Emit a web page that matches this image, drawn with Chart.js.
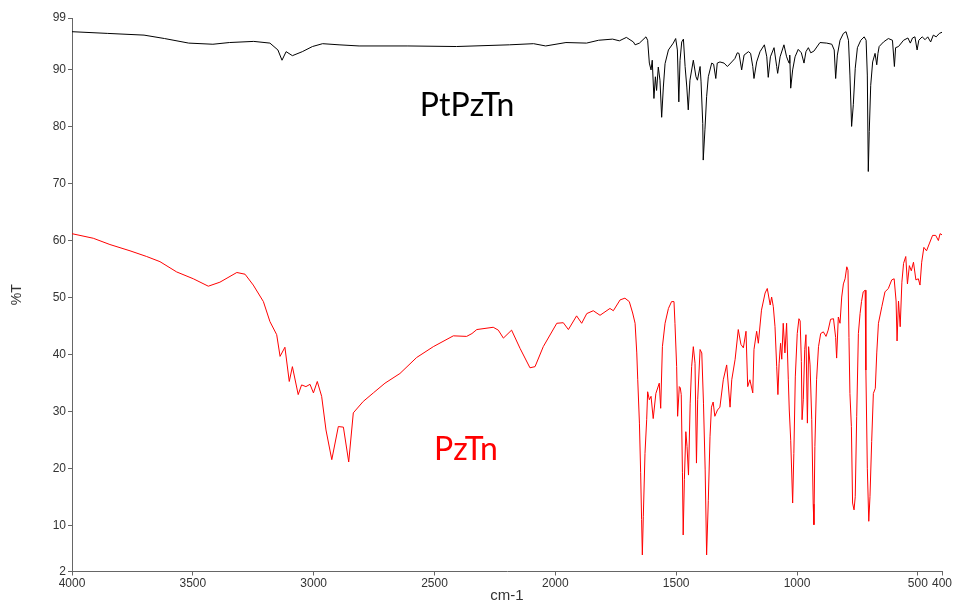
<!DOCTYPE html>
<html>
<head>
<meta charset="utf-8">
<title>IR spectra PtPzTn / PzTn</title>
<script src="https://cdn.jsdelivr.net/npm/chart.js@4.4.0/dist/chart.umd.min.js"></script>
<style>
	html, body { margin: 0; padding: 0; background: #fff; }
	#chartDiv { width: 955px; height: 605px; position: relative; }
</style>
</head>
<body>
<div id="chartDiv"><canvas id="chart-0"></canvas></div>
<script>
	//PtPzTn spectrum: wavenumber (cm-1) and %T
	var wnPtPzTn = [4000, 3852, 3702, 3617, 3517, 3417, 3349, 3248, 3181, 3148, 3131, 3114, 3088, 3047, 3005, 2963, 2895, 2812, 2610, 2409,
		2190, 2090, 2040, 1956, 1871, 1821, 1763, 1735, 1706, 1677, 1670, 1652, 1625, 1618, 1611, 1604, 1599, 1592, 1586, 1581,
		1574, 1567, 1560, 1553, 1546, 1532, 1512, 1502, 1495, 1489, 1484, 1477, 1470, 1463, 1456, 1450, 1443, 1429, 1418, 1412,
		1401, 1397, 1390, 1388, 1381, 1374, 1367, 1353, 1345, 1336, 1330, 1319, 1302, 1288, 1270, 1257, 1247, 1240, 1229, 1219,
		1201, 1192, 1183, 1178, 1167, 1153, 1135, 1125, 1119, 1110, 1095, 1084, 1080, 1070, 1054, 1043, 1033, 1030, 1026, 1018,
		1008, 995, 982, 971, 963, 953, 943, 930, 905, 877, 856, 846, 840, 833, 822, 808, 797, 787, 781, 774,
		767, 759, 750, 736, 722, 714, 709, 705, 701, 695, 687, 677, 670, 665, 660, 642, 622, 605, 597, 592,
		580, 559, 541, 531, 522, 512, 503, 496, 482, 470, 459, 447, 436, 424, 411, 400];
	var tPtPzTn = [96.6, 96.3, 96.0, 95.4, 94.6, 94.4, 94.7, 94.9, 94.6, 93.4, 91.6, 93.1, 92.4, 93.1, 94.0, 94.5, 94.3, 94.1, 94.1, 94.0,
		94.3, 94.5, 94.1, 94.7, 94.6, 95.1, 95.3, 95.0, 95.6, 94.8, 94.3, 94.6, 95.7, 95.1, 91.1, 89.9, 91.6, 84.9, 88.7, 86.3,
		90.4, 88.1, 81.6, 86.9, 91.0, 93.4, 94.6, 95.4, 93.4, 84.3, 91.6, 94.8, 95.3, 90.5, 86.9, 82.9, 88.1, 91.6, 88.7, 88.1,
		90.5, 87.8, 80.5, 74.1, 79.4, 85.2, 88.7, 91.1, 90.9, 88.4, 91.1, 91.3, 91.1, 90.5, 91.3, 91.9, 92.9, 92.8, 89.9, 92.5,
		93.1, 92.8, 90.5, 88.4, 91.3, 93.1, 94.3, 92.2, 88.6, 92.2, 93.8, 90.5, 89.3, 92.2, 94.3, 92.2, 91.1, 92.5, 86.7, 89.9,
		92.2, 93.5, 92.9, 91.1, 93.1, 93.8, 92.9, 93.2, 94.7, 94.6, 94.4, 93.4, 88.4, 92.5, 95.1, 96.3, 96.6, 95.1, 89.0, 80.0,
		83.8, 90.2, 93.8, 95.1, 95.7, 95.1, 89.0, 72.1, 79.1, 87.2, 91.3, 92.8, 90.8, 92.8, 94.0, 94.8, 95.4, 95.1, 90.5, 93.8,
		94.0, 95.1, 95.5, 94.6, 95.5, 95.7, 93.4, 95.1, 95.7, 95.2, 95.7, 94.8, 96.0, 95.7, 96.3, 96.5];

	//PzTn spectrum: wavenumber (cm-1) and %T
	var wnPzTn = [4000, 3912, 3843, 3760, 3691, 3636, 3567, 3498, 3436, 3388, 3318, 3284, 3250, 3208, 3181, 3153, 3139, 3119, 3101, 3088,
		3064, 3050, 3032, 3015, 3001, 2985, 2967, 2949, 2925, 2898, 2877, 2855, 2836, 2795, 2753, 2705, 2643, 2574, 2505, 2422,
		2367, 2345, 2325, 2257, 2236, 2215, 2181, 2146, 2105, 2084, 2050, 1994, 1967, 1946, 1912, 1891, 1870, 1843, 1815, 1774,
		1760, 1732, 1712, 1694, 1680, 1670, 1663, 1659, 1652, 1647, 1643, 1640, 1636, 1629, 1622, 1618, 1611, 1604, 1595, 1584,
		1570, 1564, 1557, 1546, 1532, 1519, 1509, 1505, 1498, 1494, 1487, 1483, 1479, 1474, 1471, 1466, 1460, 1455, 1449, 1442,
		1436, 1429, 1422, 1416, 1411, 1401, 1394, 1387, 1380, 1374, 1367, 1360, 1354, 1347, 1340, 1329, 1319, 1305, 1291, 1277,
		1270, 1256, 1243, 1232, 1222, 1211, 1204, 1195, 1183, 1178, 1167, 1160, 1147, 1132, 1123, 1111, 1105, 1098, 1091, 1084,
		1079, 1074, 1068, 1063, 1057, 1050, 1043, 1036, 1032, 1026, 1018, 1013, 1007, 999, 992, 987, 982, 979, 974, 968,
		963, 957, 952, 946, 939, 933, 930, 926, 919, 911, 902, 891, 880, 871, 861, 849, 840, 836, 829, 822,
		815, 808, 801, 794, 789, 785, 781, 775, 770, 764, 759, 753, 746, 739, 733, 726, 718, 715, 709, 703,
		698, 691, 684, 676, 670, 663, 649, 636, 622, 608, 598, 590, 586, 580, 573, 566, 559, 550, 543, 535,
		527, 518, 508, 498, 491, 484, 475, 464, 453, 439, 426, 415, 408, 400];
	var tPzTn = [61.2, 60.4, 59.3, 58.2, 57.2, 56.3, 54.5, 53.3, 52.0, 52.7, 54.4, 54.1, 52.2, 49.3, 45.8, 43.5, 39.7, 41.3, 35.3, 37.9,
		33.0, 34.7, 34.4, 34.8, 33.3, 35.3, 32.7, 26.8, 21.6, 27.4, 27.3, 21.2, 29.8, 31.8, 33.3, 35.0, 36.7, 39.5, 41.4, 43.3,
		43.2, 43.7, 44.4, 44.8, 44.3, 42.9, 44.3, 41.1, 37.7, 37.9, 41.4, 45.5, 45.6, 44.4, 46.8, 45.5, 47.2, 47.7, 46.9, 48.1,
		47.7, 49.6, 49.9, 49.3, 47.3, 45.5, 40.3, 35.6, 28.0, 19.3, 11.1, 4.9, 11.6, 22.7, 28.6, 33.5, 32.1, 32.7, 28.8, 33.2,
		35.0, 30.6, 41.4, 45.5, 48.1, 49.3, 49.3, 45.5, 37.9, 29.2, 34.4, 34.2, 33.0, 19.3, 8.4, 18.1, 26.5, 23.9, 18.9, 31.5,
		37.9, 41.4, 38.5, 21.0, 32.1, 40.9, 40.3, 31.5, 19.8, 4.9, 14.4, 25.6, 30.8, 31.7, 29.2, 30.3, 30.8, 35.6, 38.2, 30.8,
		35.6, 39.2, 44.4, 41.8, 41.2, 44.1, 34.4, 35.6, 33.3, 40.9, 44.1, 42.0, 47.8, 50.8, 51.6, 48.7, 50.1, 48.4, 44.9, 37.9,
		33.0, 38.5, 42.0, 39.2, 45.5, 40.3, 45.5, 35.6, 30.3, 25.0, 14.0, 22.7, 36.1, 43.7, 46.3, 45.9, 38.8, 28.6, 32.1, 40.9,
		43.5, 28.0, 41.4, 38.2, 28.6, 13.8, 10.2, 23.9, 35.6, 41.4, 43.7, 44.0, 43.2, 44.3, 46.2, 46.3, 43.0, 39.4, 46.6, 45.5,
		50.1, 52.4, 53.3, 55.4, 54.8, 43.0, 33.2, 27.4, 14.0, 12.8, 15.1, 29.2, 43.7, 47.2, 49.3, 51.0, 51.3, 37.3, 20.1, 10.8,
		15.1, 24.8, 33.2, 34.1, 40.3, 45.5, 48.4, 51.0, 51.6, 53.1, 53.3, 49.4, 42.4, 49.4, 44.9, 52.7, 56.0, 57.2, 52.4, 55.6,
		54.7, 56.2, 53.1, 53.3, 52.2, 56.2, 58.8, 58.2, 59.4, 60.9, 60.9, 60.0, 61.2, 61.0];

	var xTicks = [4000, 3500, 3000, 2500, 2000, 1500, 1000, 500, 400];
	var yTicks = [2, 10, 20, 30, 40, 50, 60, 70, 80, 90, 99];

	function toPoints(xs, ys) {
		var pts = [];
		for (var i = 0; i < xs.length; i++) {
			pts.push({x: xs[i], y: ys[i]});
		}
		return pts;
	}

	//plain numbers on the axes, no thousands separator
	function plainLabel(value) {
		return String(value);
	}

	//writes the compound names inside the plot
	var spectrumLabels = {
		id: 'spectrumLabels',
		afterDatasetsDraw: function(chart) {
			var ctx = chart.ctx;
			var xs = chart.scales.x;
			var ys = chart.scales.y;
			var labels = [
				{text: 'PtPzTn', wn: 2365, t: 83.7, color: '#000000'},
				{text: 'PzTn', wn: 2370, t: 23.3, color: '#ff0000'}
			];
			ctx.save();
			ctx.font = '32px Lato';
			ctx.textAlign = 'center';
			ctx.textBaseline = 'middle';
			for (var i = 0; i < labels.length; i++) {
				ctx.fillStyle = labels[i].color;
				ctx.fillText(labels[i].text, xs.getPixelForValue(labels[i].wn), ys.getPixelForValue(labels[i].t));
			}
			ctx.restore();
		}
	};

	var tickFont = {family: 'Liberation Sans', size: 12};
	var axisColor = '#666666';

	var ctx = document.getElementById('chart-0').getContext('2d');
	var myChart = new Chart(ctx, {
		type: 'line',
		data: {
			datasets: [
				{
					label: 'PtPzTn',
					data: toPoints(wnPtPzTn, tPtPzTn),
					borderColor: '#000000',
					borderWidth: 1,
					pointRadius: 0,
					tension: 0,
					fill: false
				},
				{
					label: 'PzTn',
					data: toPoints(wnPzTn, tPzTn),
					borderColor: '#ff0000',
					borderWidth: 1,
					pointRadius: 0,
					tension: 0,
					fill: false
				}
			]
		},
		options: {
			responsive: true,
			maintainAspectRatio: false,
			animation: false,
			layout: {padding: {top: 18, right: 13, bottom: 0, left: 9}},
			plugins: {
				legend: {display: false},
				tooltip: {enabled: false}
			},
			scales: {
				x: {
					type: 'linear',
					reverse: true,
					min: 400,
					max: 4000,
					afterBuildTicks: function(scale) {
						scale.ticks = xTicks.map(function(v) { return {value: v}; });
					},
					afterFit: function(scale) {
						scale.height = 33.5;
					},
					grid: {display: true, drawOnChartArea: false, drawTicks: true, tickLength: 4, color: axisColor},
					border: {display: true, color: axisColor},
					ticks: {
						font: tickFont,
						color: '#333333',
						padding: 1,
						maxRotation: 0,
						autoSkip: false,
						callback: plainLabel
					},
					title: {
						display: true,
						text: 'cm-1',
						font: {family: 'Liberation Sans', size: 15},
						color: '#333333',
						padding: 0
					}
				},
				y: {
					type: 'linear',
					min: 2,
					max: 99,
					afterBuildTicks: function(scale) {
						scale.ticks = yTicks.map(function(v) { return {value: v}; });
					},
					afterFit: function(scale) {
						scale.width = 63;
					},
					grid: {display: true, drawOnChartArea: false, drawTicks: true, tickLength: 4, color: axisColor},
					border: {display: true, color: axisColor},
					ticks: {
						font: tickFont,
						color: '#333333',
						padding: 2,
						autoSkip: false,
						callback: plainLabel
					},
					title: {
						display: true,
						text: '%T',
						font: {family: 'Liberation Sans', size: 14},
						color: '#333333',
						padding: 0
					}
				}
			}
		},
		plugins: [spectrumLabels]
	});
</script>
</body>
</html>
